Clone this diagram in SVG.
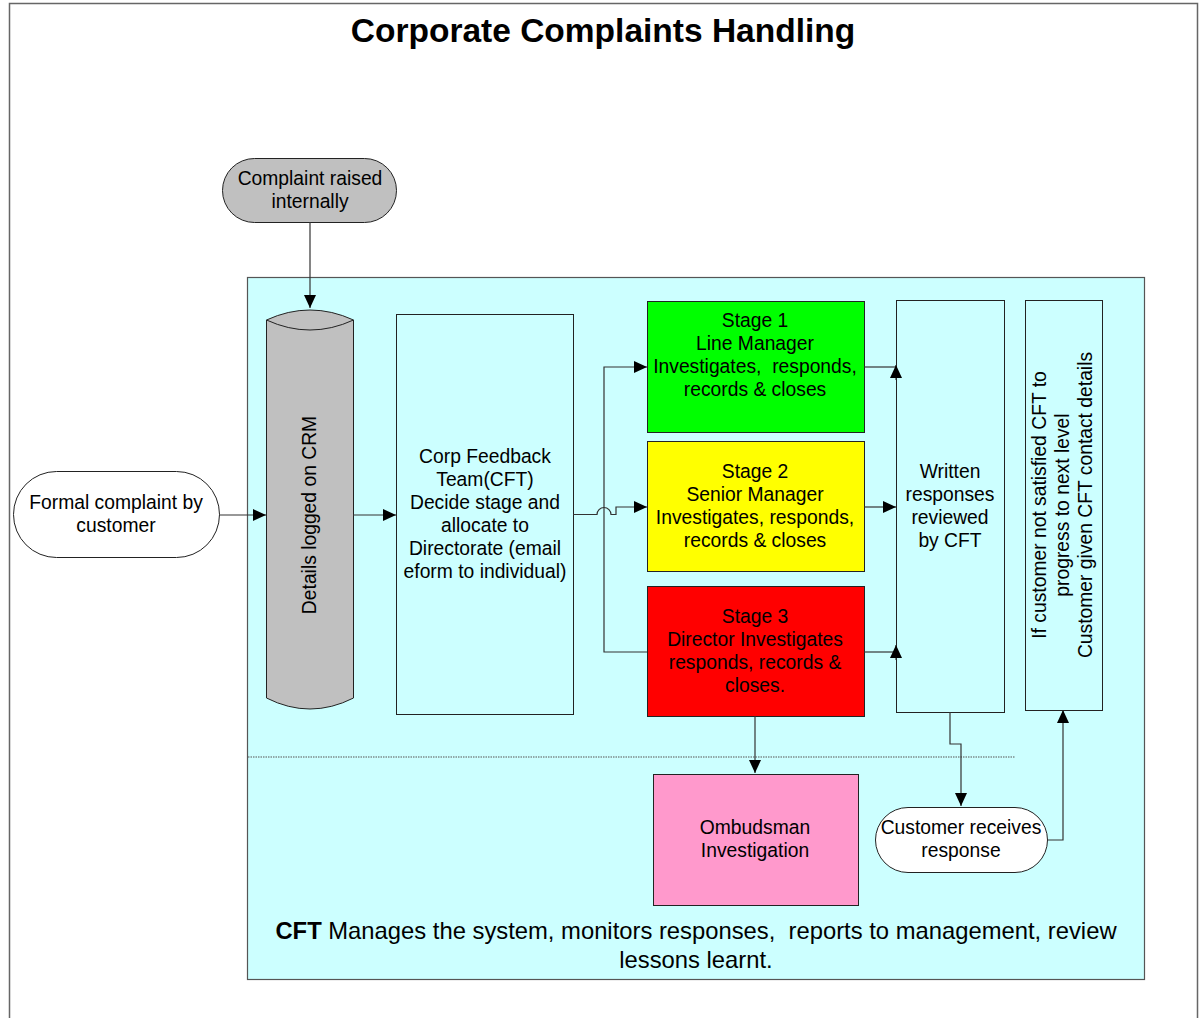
<svg xmlns="http://www.w3.org/2000/svg" width="1199" height="1018" viewBox="0 0 1199 1018">
  <defs>
    <marker id="arrow" viewBox="0 0 13 12" refX="13" refY="6" markerWidth="13" markerHeight="12" markerUnits="userSpaceOnUse" orient="auto">
      <path d="M0,0 L13,6 L0,12 Z" fill="#000"/>
    </marker>
    <style>
      text { font-family: "Liberation Sans", Arial, sans-serif; fill: #000; }
      .lbl { font-size: 19.3px; text-anchor: middle; }
      .box { stroke: #222; stroke-width: 1; }
      .conn { fill: none; stroke: #333; stroke-width: 1.2; }
      .arr { marker-end: url(#arrow); }
    </style>
  </defs>

  <!-- page frame -->
  <rect x="0" y="0" width="1199" height="1018" fill="#fff"/>
  <path d="M9.5,1018 V3.5 H1197.5 V1018" fill="none" stroke="#666" stroke-width="1.5"/>

  <text x="603" y="42" font-size="33.5" font-weight="bold" text-anchor="middle">Corporate Complaints Handling</text>

  <!-- CFT work area -->
  <rect x="247.5" y="277.5" width="897" height="702" fill="#ccffff" stroke="#555" stroke-width="1.2"/>
  <line x1="248" y1="757" x2="1015" y2="757" stroke="#555" stroke-width="1.2" stroke-dasharray="1.5,1"/>

  <g id="internal-complaint">
    <rect class="box" x="222.5" y="158.5" width="174" height="64" rx="32" fill="#c0c0c0"/>
    <text class="lbl" x="310" y="185">Complaint raised</text>
    <text class="lbl" x="310" y="208">internally</text>
  </g>

  <g id="formal-complaint">
    <rect class="box" x="13.5" y="471.5" width="206" height="86" rx="43" fill="#fff"/>
    <text class="lbl" x="116" y="509">Formal complaint by</text>
    <text class="lbl" x="116" y="532">customer</text>
  </g>

  <g id="crm">
    <path class="box" d="M266.5,320 Q310,300 353.5,320 V698 Q310,720 266.5,698 Z" fill="#c0c0c0"/>
    <path class="box" d="M266.5,320 Q310,340 353.5,320" fill="none"/>
    <text class="lbl" transform="translate(316,515) rotate(-90)">Details logged on CRM</text>
  </g>

  <g id="cft-allocate">
    <rect class="box" x="396.5" y="314.5" width="177" height="400" fill="#ccffff"/>
    <text class="lbl" x="485" y="463">Corp Feedback</text>
    <text class="lbl" x="485" y="486">Team(CFT)</text>
    <text class="lbl" x="485" y="509">Decide stage and</text>
    <text class="lbl" x="485" y="532">allocate to</text>
    <text class="lbl" x="485" y="555">Directorate (email</text>
    <text class="lbl" x="485" y="578">eform to individual)</text>
  </g>

  <g id="stage1">
    <rect class="box" x="647.5" y="301.5" width="217" height="131" fill="#00ff00"/>
    <text class="lbl" x="755" y="327">Stage 1</text>
    <text class="lbl" x="755" y="350" xml:space="preserve">Line Manager</text>
    <text class="lbl" x="755" y="373" xml:space="preserve">Investigates,  responds,</text>
    <text class="lbl" x="755" y="396">records &amp; closes</text>
  </g>

  <g id="stage2">
    <rect class="box" x="647.5" y="441.5" width="217" height="130" fill="#ffff00"/>
    <text class="lbl" x="755" y="478">Stage 2</text>
    <text class="lbl" x="755" y="501">Senior Manager</text>
    <text class="lbl" x="755" y="524">Investigates, responds,</text>
    <text class="lbl" x="755" y="547">records &amp; closes</text>
  </g>

  <g id="stage3">
    <rect class="box" x="647.5" y="586.5" width="217" height="130" fill="#ff0000"/>
    <text class="lbl" x="755" y="623">Stage 3</text>
    <text class="lbl" x="755" y="646">Director Investigates</text>
    <text class="lbl" x="755" y="669">responds, records &amp;</text>
    <text class="lbl" x="755" y="692">closes.</text>
  </g>

  <g id="review">
    <rect class="box" x="896.5" y="300.5" width="108" height="412" fill="#ccffff"/>
    <text class="lbl" x="950" y="478">Written</text>
    <text class="lbl" x="950" y="501">responses</text>
    <text class="lbl" x="950" y="524">reviewed</text>
    <text class="lbl" x="950" y="547">by CFT</text>
  </g>

  <g id="escalate">
    <rect class="box" x="1025.5" y="300.5" width="77" height="410" fill="#ccffff"/>
    <g transform="translate(1063,505) rotate(-90)">
      <text class="lbl" x="0" y="-17">If customer not satisfied CFT to</text>
      <text class="lbl" x="0" y="6">progress to next level</text>
      <text class="lbl" x="0" y="29">Customer given CFT contact details</text>
    </g>
  </g>

  <g id="ombudsman">
    <rect class="box" x="653.5" y="774.5" width="205" height="131" fill="#ff99cc"/>
    <text class="lbl" x="755" y="834">Ombudsman</text>
    <text class="lbl" x="755" y="857">Investigation</text>
  </g>

  <g id="customer-response">
    <rect class="box" x="875.5" y="807.5" width="172" height="65" rx="32.5" fill="#fff"/>
    <text class="lbl" x="961" y="834">Customer receives</text>
    <text class="lbl" x="961" y="857">response</text>
  </g>

  <g id="cft-note">
    <text x="696" y="939" font-size="23.8" text-anchor="middle" xml:space="preserve"><tspan font-weight="bold">CFT</tspan> Manages the system, monitors responses,  reports to management, review</text>
    <text x="696" y="968" font-size="23.8" text-anchor="middle">lessons learnt.</text>
  </g>

  <!-- connectors, drawn last so arrowheads sit above box fills -->
  <g id="connectors">
    <path class="conn arr" d="M310,222 V308"/>
    <path class="conn arr" d="M219,515 H266"/>
    <path class="conn arr" d="M353,515 H396"/>
    <path class="conn arr" d="M573,514.5 H597 A7,7 0 0 1 611,514.5 H616 V507 H647"/>
    <path class="conn arr" d="M647,652 H604 V367 H647"/>
    <path class="conn" d="M864,367 H896"/>
    <path class="conn arr" d="M896,380 V365"/>
    <path class="conn arr" d="M864,507 H896"/>
    <path class="conn" d="M864,652 H896"/>
    <path class="conn arr" d="M896,660 V645"/>
    <path class="conn arr" d="M755,716 V773"/>
    <path class="conn arr" d="M950,712 V744 H961 V806"/>
    <path class="conn arr" d="M1047,840 H1063 V710"/>
  </g>
</svg>
